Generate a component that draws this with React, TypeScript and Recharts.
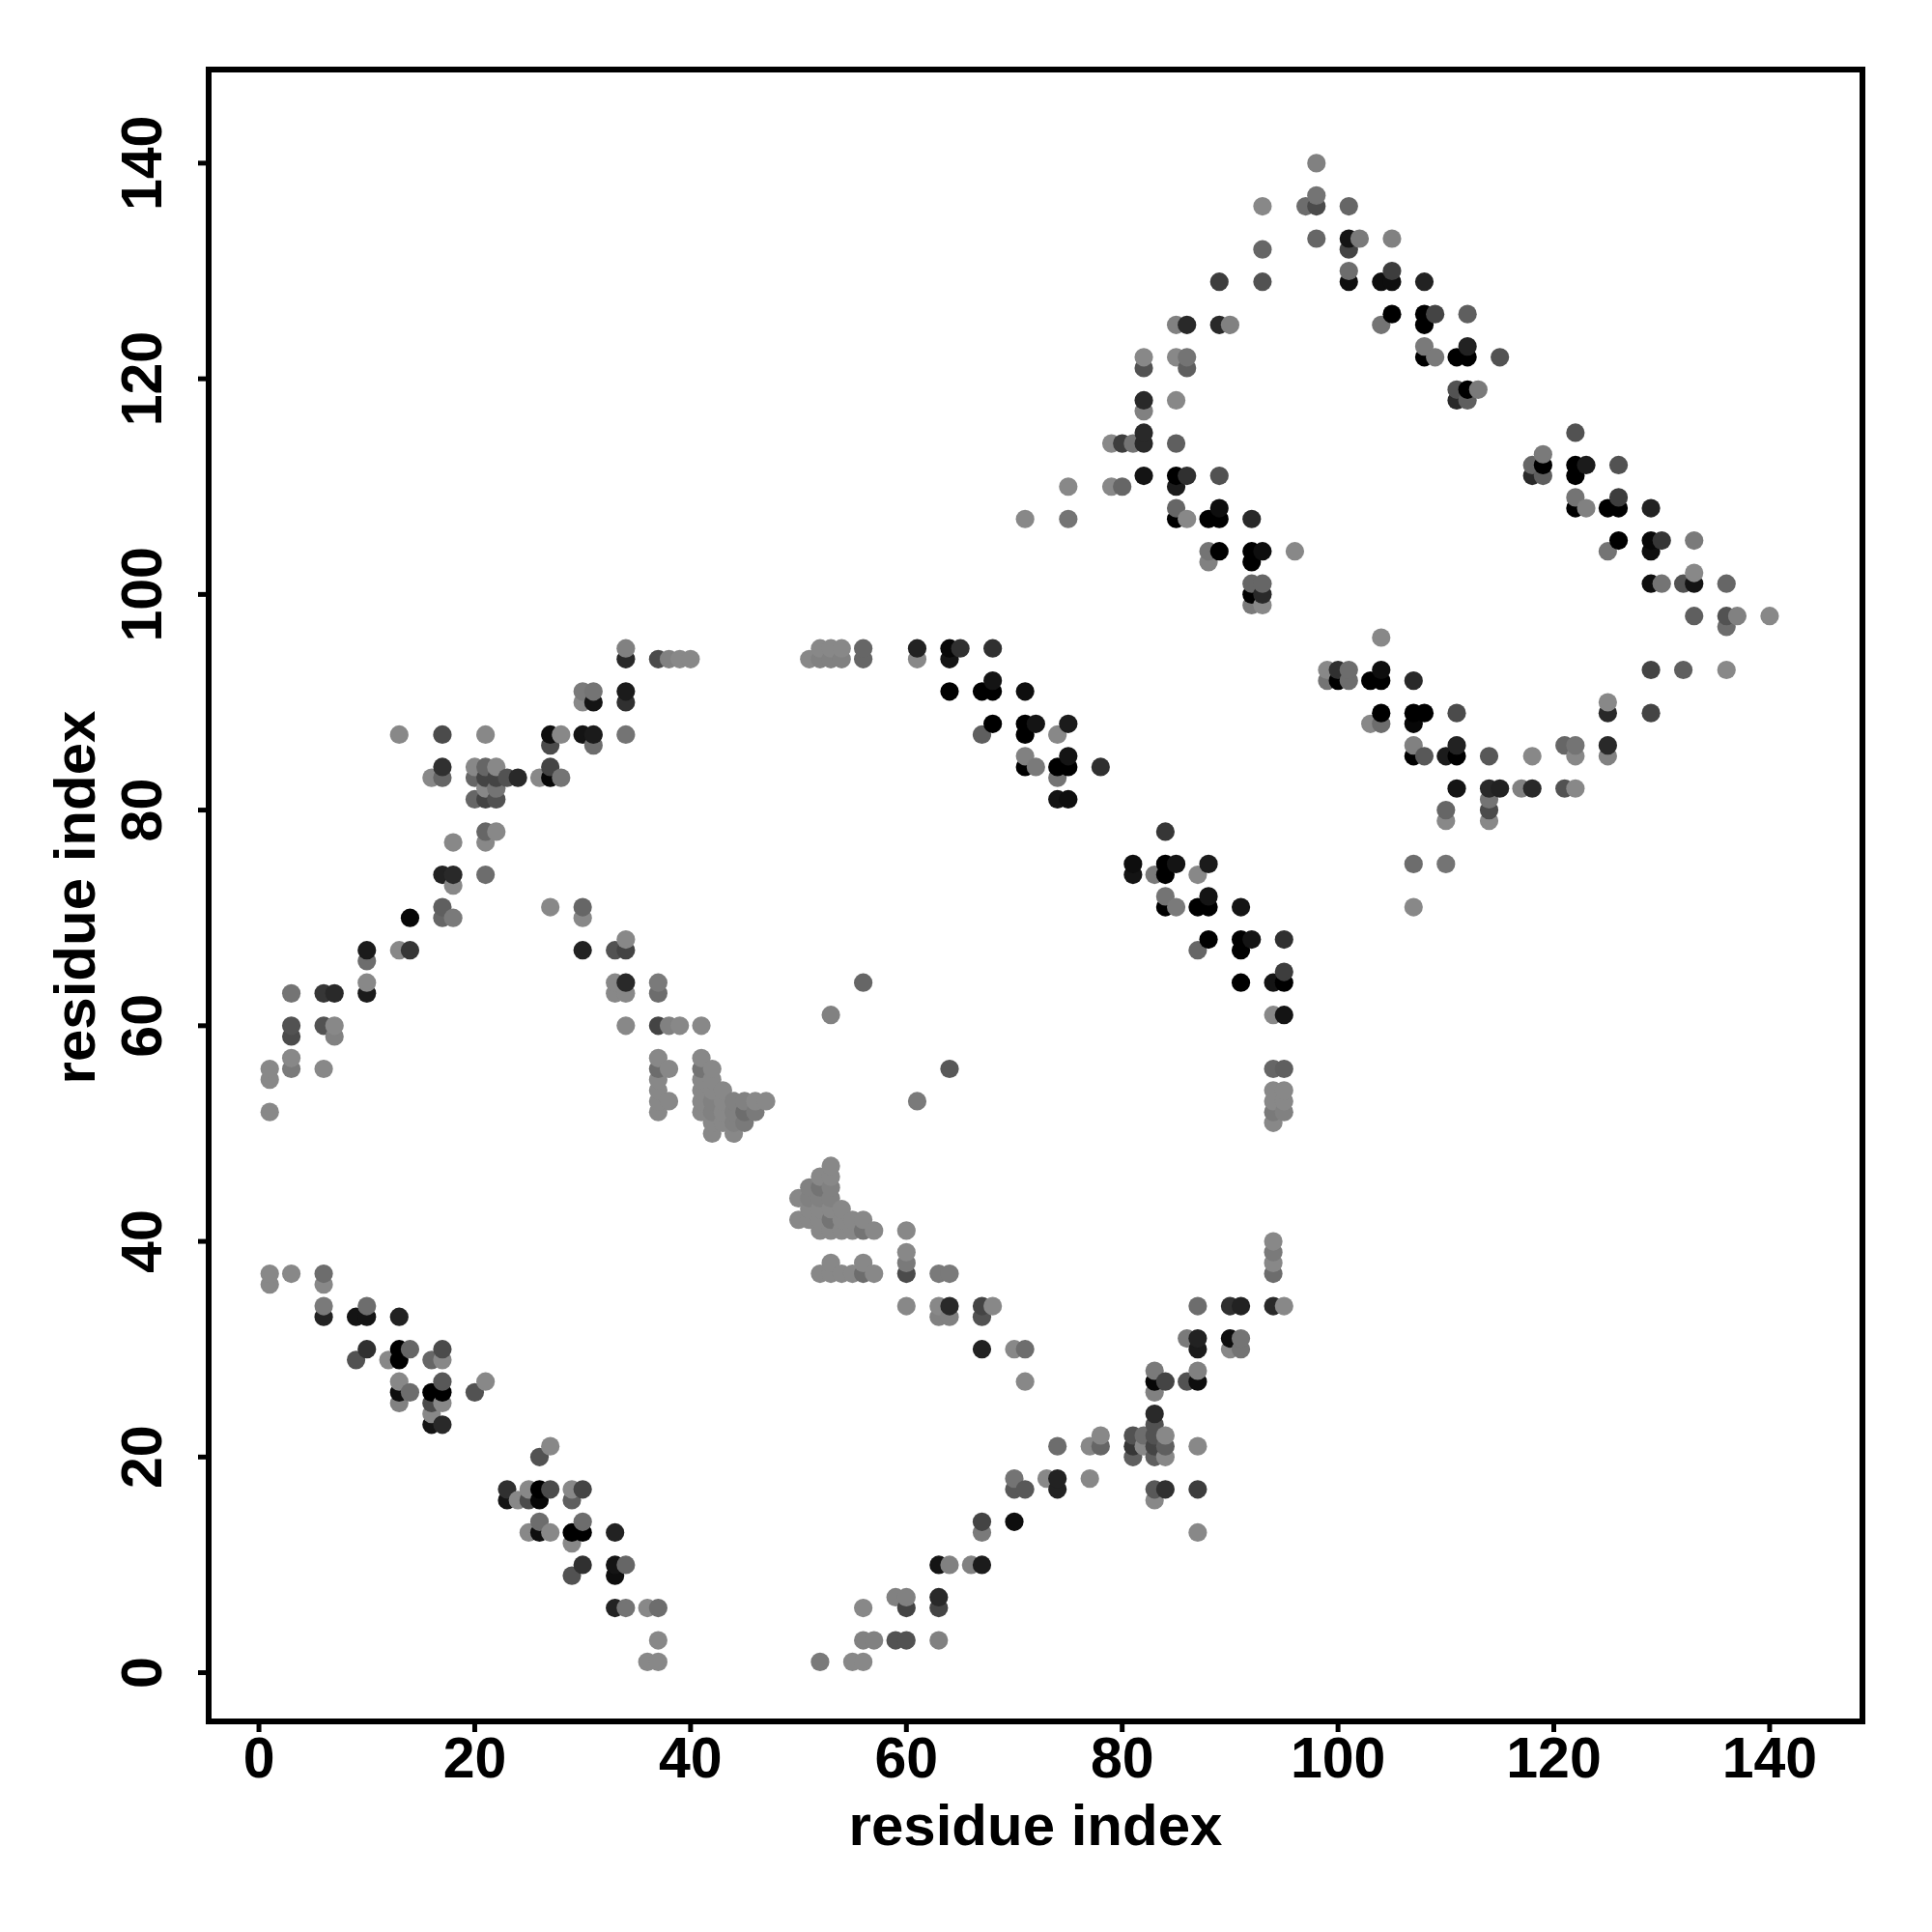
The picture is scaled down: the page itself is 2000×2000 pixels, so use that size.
import { ReferenceArea, Scatter, ScatterChart, XAxis, YAxis } from "recharts";

// [residue i, residue j, contact strength 0-100]
type Contact = [number, number, number];

const axisTicks = [0, 20, 40, 60, 80, 100, 120, 140];
const axisLabel = "residue index";

const lowerLeftContacts: Contact[] = [
  [1, 37, 0], [3, 37, 0], [6, 37, 20], [1, 36, 0], [6, 36, 0], [6, 34, 10], [10, 34, 20],
  [6, 33, 75], [9, 33, 85], [10, 33, 85], [13, 33, 75], [10, 30, 65], [13, 30, 100], [14, 30, 25],
  [17, 30, 45], [9, 29, 40], [12, 29, 0], [13, 29, 100], [16, 29, 25], [17, 29, 0], [13, 27, 0],
  [17, 27, 35], [13, 26, 90], [14, 26, 20], [16, 26, 100], [17, 26, 100], [13, 25, 5], [16, 25, 45],
  [17, 25, 0], [16, 24, 0], [16, 23, 85], [17, 23, 70], [21, 27, 0], [20, 26, 40], [27, 21, 0],
  [26, 20, 40], [23, 17, 65], [25, 17, 0], [26, 17, 100], [27, 17, 45], [29, 17, 0], [30, 17, 50],
  [23, 16, 85], [24, 16, 0], [25, 16, 45], [26, 16, 95], [29, 16, 30], [26, 14, 20], [30, 14, 20],
  [25, 13, 0], [26, 13, 90], [27, 13, 0], [29, 13, 100], [30, 13, 100], [33, 13, 75], [29, 12, 0],
  [30, 10, 65], [33, 10, 85], [34, 10, 25], [29, 9, 40], [33, 9, 90], [33, 6, 75], [34, 6, 15],
  [36, 6, 0], [37, 6, 20], [37, 3, 0], [36, 1, 0], [37, 1, 0],
];

const lowerMiddleContacts: Contact[] = [
  [53, 47, 0], [52, 46, 0], [53, 46, 0], [51, 45, 5], [52, 45, 15], [53, 45, 5], [50, 44, 0],
  [51, 44, 5], [52, 44, 5], [53, 44, 5], [51, 43, 0], [52, 43, 0], [53, 43, 0], [54, 43, 0],
  [50, 42, 0], [51, 42, 0], [52, 42, 0], [53, 42, 15], [54, 42, 0], [55, 42, 0], [56, 42, 0],
  [52, 41, 0], [53, 41, 0], [54, 41, 0], [55, 41, 0], [56, 41, 15], [57, 41, 0], [60, 41, 0],
  [60, 39, 0], [60, 38, 10], [53, 38, 0], [56, 38, 0], [52, 37, 0], [53, 37, 0], [54, 37, 0],
  [55, 37, 0], [56, 37, 20], [57, 37, 0], [60, 37, 45], [63, 37, 10], [64, 37, 10], [60, 34, 0],
  [63, 34, 0], [64, 34, 70], [67, 34, 50], [68, 34, 0], [63, 33, 5], [64, 33, 5], [67, 33, 40],
  [67, 30, 75], [70, 30, 0], [71, 30, 20], [71, 27, 0], [74, 21, 20], [77, 21, 0], [70, 18, 15],
  [73, 18, 0], [74, 18, 75], [77, 18, 0], [70, 17, 35], [71, 17, 35], [74, 17, 75], [67, 14, 50],
  [70, 14, 90], [67, 13, 10], [63, 10, 85], [64, 10, 5], [66, 10, 5], [67, 10, 80], [59, 7, 5],
  [60, 7, 5], [63, 7, 70], [56, 6, 0], [60, 6, 50], [63, 6, 50], [56, 3, 5], [57, 3, 5], [59, 3, 40],
  [60, 3, 40], [63, 3, 5], [52, 1, 10], [55, 1, 0], [56, 1, 0],
];

const lowerRightContacts: Contact[] = [
  [94, 40, 0], [94, 39, 10], [94, 38, 0], [94, 37, 20], [87, 34, 20], [90, 34, 65], [91, 34, 75],
  [94, 34, 70], [95, 34, 0], [86, 31, 10], [87, 31, 75], [90, 31, 90], [91, 31, 15], [87, 30, 80],
  [90, 30, 0], [91, 30, 15], [83, 28, 10], [87, 28, 5], [83, 27, 95], [84, 27, 50], [86, 27, 40],
  [87, 27, 90], [83, 26, 5], [83, 24, 70], [83, 23, 40], [81, 22, 40], [82, 22, 20], [83, 22, 40],
  [84, 22, 0], [78, 22, 0], [78, 21, 25], [81, 21, 60], [82, 21, 0], [83, 21, 50], [84, 21, 30],
  [87, 21, 0], [81, 20, 30], [83, 20, 30], [84, 20, 0], [83, 17, 35], [84, 17, 65], [87, 17, 55],
  [83, 16, 0], [87, 13, 0],
];

const upperLeftContacts: Contact[] = [
  [34, 95, 5], [34, 94, 70], [37, 94, 45], [38, 94, 5], [39, 94, 0], [40, 94, 0], [30, 91, 10],
  [31, 91, 15], [34, 91, 80], [30, 90, 0], [31, 90, 85], [34, 90, 65], [13, 87, 0], [17, 87, 45],
  [21, 87, 0], [27, 87, 90], [28, 87, 0], [30, 87, 85], [31, 87, 80], [34, 87, 15], [27, 86, 45],
  [31, 86, 20], [17, 84, 65], [20, 84, 0], [21, 84, 25], [22, 84, 0], [27, 84, 50], [16, 83, 0],
  [17, 83, 25], [20, 83, 25], [21, 83, 50], [22, 83, 50], [23, 83, 40], [24, 83, 70], [26, 83, 0],
  [27, 83, 95], [28, 83, 15], [21, 82, 0], [22, 82, 15], [20, 81, 25], [21, 81, 50], [22, 81, 40],
  [21, 78, 25], [22, 78, 0], [18, 77, 0], [21, 77, 0], [17, 74, 75], [18, 74, 70], [21, 74, 20],
  [18, 73, 0], [17, 71, 30], [27, 71, 0], [30, 71, 25], [14, 70, 95], [17, 70, 25], [18, 70, 10],
  [30, 70, 0], [34, 68, 0], [10, 67, 80], [13, 67, 0], [14, 67, 60], [30, 67, 75], [33, 67, 40],
  [34, 67, 50], [10, 66, 20], [10, 64, 0], [33, 64, 0], [34, 64, 70], [37, 64, 10], [3, 63, 15],
  [6, 63, 60], [7, 63, 70], [10, 63, 80], [33, 63, 0], [34, 63, 0], [37, 63, 20], [3, 60, 40],
  [6, 60, 40], [7, 60, 0], [34, 60, 0], [37, 60, 50], [38, 60, 5], [39, 60, 0], [41, 60, 0],
  [3, 59, 45], [7, 59, 5], [3, 57, 0], [37, 57, 0], [1, 56, 0], [3, 56, 10], [6, 56, 0], [37, 56, 20],
  [38, 56, 0], [1, 55, 0], [37, 55, 0], [37, 54, 0], [37, 53, 0], [38, 53, 0], [1, 52, 0], [37, 52, 0],
];

const centerContacts: Contact[] = [
  [41, 57, 0], [41, 56, 15], [42, 56, 0], [41, 55, 0], [42, 55, 0], [41, 54, 0], [42, 54, 0],
  [43, 54, 0], [41, 53, 0], [42, 53, 5], [43, 53, 0], [44, 53, 5], [45, 53, 5], [46, 53, 0],
  [47, 53, 0], [41, 52, 0], [42, 52, 5], [43, 52, 0], [44, 52, 5], [45, 52, 20], [46, 52, 10],
  [42, 51, 0], [43, 51, 0], [44, 51, 5], [45, 51, 10], [42, 50, 0], [44, 50, 0], [61, 53, 10],
  [64, 56, 35], [53, 61, 5], [56, 64, 25],
];

const middleContacts: Contact[] = [
  [52, 95, 0], [53, 95, 0], [54, 95, 0], [56, 95, 25], [61, 95, 75], [64, 95, 95], [65, 95, 65],
  [68, 95, 65], [51, 94, 0], [52, 94, 5], [53, 94, 5], [54, 94, 5], [56, 94, 25], [61, 94, 0],
  [64, 94, 85], [68, 92, 85], [64, 91, 100], [67, 91, 100], [68, 91, 100], [71, 91, 90], [68, 88, 100],
  [71, 88, 100], [72, 88, 85], [75, 88, 80], [67, 87, 30], [71, 87, 100], [74, 87, 0], [71, 85, 5],
  [75, 85, 85], [71, 84, 100], [72, 84, 10], [74, 84, 100], [75, 84, 100], [78, 84, 65], [74, 83, 15],
  [74, 81, 85], [75, 81, 90], [84, 78, 60], [81, 75, 90], [84, 75, 100], [85, 75, 85], [88, 75, 80],
  [81, 74, 85], [83, 74, 10], [84, 74, 100], [87, 74, 0], [84, 72, 15], [88, 72, 85], [84, 71, 100],
  [85, 71, 10], [87, 71, 100], [88, 71, 100], [91, 71, 85], [88, 68, 100], [91, 68, 100], [92, 68, 85],
  [95, 68, 65], [87, 67, 25], [91, 67, 100], [95, 65, 55], [91, 64, 100], [94, 64, 85], [95, 64, 100],
  [94, 61, 0], [95, 61, 85], [94, 56, 25], [95, 56, 30], [94, 54, 0], [95, 54, 0], [94, 53, 0],
  [95, 53, 0], [94, 52, 10], [95, 52, 5], [94, 51, 0],
];

const upperMiddleContacts: Contact[] = [
  [93, 136, 0], [93, 132, 25], [89, 129, 55], [93, 129, 40], [85, 125, 5], [86, 125, 70], [89, 125, 70],
  [90, 125, 5], [82, 122, 0], [85, 122, 0], [86, 122, 15], [82, 121, 40], [86, 121, 30], [82, 118, 70],
  [85, 118, 0], [82, 117, 5], [82, 115, 70], [79, 114, 0], [80, 114, 55], [81, 114, 15], [82, 114, 70],
  [85, 114, 30], [82, 111, 85], [85, 111, 100], [86, 111, 65], [89, 111, 40], [75, 110, 0], [79, 110, 0],
  [80, 110, 25], [85, 110, 80], [85, 108, 25], [89, 108, 90], [71, 107, 0], [75, 107, 15], [85, 107, 100],
  [86, 107, 0], [88, 107, 100], [89, 107, 100], [92, 107, 70], [88, 104, 15], [89, 104, 100],
  [92, 104, 100], [93, 104, 90], [96, 104, 0], [88, 103, 5], [92, 103, 100], [92, 101, 25], [93, 101, 25],
  [92, 100, 100], [93, 100, 70], [92, 99, 10], [93, 99, 0],
];

const upperRightContacts: Contact[] = [
  [98, 140, 5], [98, 137, 15], [97, 136, 20], [98, 136, 45], [101, 136, 25], [98, 133, 25], [101, 133, 85],
  [102, 133, 10], [105, 133, 5], [101, 132, 50], [101, 130, 20], [105, 130, 55], [101, 129, 90],
  [104, 129, 90], [105, 129, 90], [108, 129, 75], [105, 126, 100], [108, 126, 100], [109, 126, 50],
  [112, 126, 30], [104, 125, 15], [108, 125, 100], [108, 123, 10], [112, 123, 75], [108, 122, 100],
  [109, 122, 10], [111, 122, 100], [112, 122, 100], [115, 122, 40], [111, 119, 40], [112, 119, 100],
  [113, 119, 10], [111, 118, 70], [112, 118, 30], [122, 115, 40], [119, 113, 10], [118, 112, 25],
  [119, 112, 100], [122, 112, 100], [123, 112, 80], [126, 112, 40], [118, 111, 70], [119, 111, 30],
  [122, 111, 100], [122, 109, 15], [126, 109, 55], [122, 108, 100], [123, 108, 5], [125, 108, 100],
  [126, 108, 100], [129, 108, 75], [126, 105, 100], [129, 105, 95], [130, 105, 60], [133, 105, 10],
  [125, 104, 15], [129, 104, 90], [133, 102, 0], [129, 101, 90], [130, 101, 15], [132, 101, 40],
  [133, 101, 85], [136, 101, 25], [133, 98, 30], [136, 98, 40], [137, 98, 5], [140, 98, 0], [136, 97, 20],
];

const rightContacts: Contact[] = [
  [104, 96, 0], [99, 93, 0], [100, 93, 65], [101, 93, 20], [104, 93, 90], [129, 93, 50], [132, 93, 30],
  [136, 93, 0], [99, 92, 15], [100, 92, 100], [101, 92, 20], [103, 92, 100], [104, 92, 100], [107, 92, 70],
  [125, 90, 0], [104, 89, 100], [107, 89, 100], [108, 89, 100], [111, 89, 45], [125, 89, 70], [129, 89, 50],
  [103, 88, 0], [104, 88, 20], [107, 88, 95], [107, 86, 5], [111, 86, 75], [121, 86, 25], [122, 86, 15],
  [125, 86, 70], [107, 85, 100], [108, 85, 35], [110, 85, 80], [111, 85, 100], [114, 85, 35], [118, 85, 0],
  [122, 85, 0], [125, 85, 5], [111, 82, 85], [114, 82, 70], [115, 82, 75], [117, 82, 5], [118, 82, 70],
  [121, 82, 40], [122, 82, 0], [114, 81, 15], [110, 80, 25], [114, 80, 45], [110, 79, 0], [114, 79, 0],
  [107, 75, 20], [110, 75, 15], [107, 71, 0],
];

const points = [
  ...lowerLeftContacts,
  ...lowerMiddleContacts,
  ...lowerRightContacts,
  ...upperLeftContacts,
  ...centerContacts,
  ...middleContacts,
  ...upperMiddleContacts,
  ...upperRightContacts,
  ...rightContacts,
]
  .map(([i, j, strength]) => ({ i, j, strength }))
  .sort((a, b) => a.i - b.i || a.j - b.j);

const xDomain: [number, number] = [-4.66, 148.6];
const yDomain: [number, number] = [-4.52, 148.68];
const FONT = '"Liberation Sans", Arial, sans-serif';

const Dot = ({ cx, cy, payload }: any) => {
  const g = Math.round(136 * (1 - payload.strength / 100));
  return <circle cx={cx} cy={cy} r={9.6} fill={`rgb(${g},${g},${g})`} />;
};

const XTick = ({ x, y, payload }: any) => (
  <text x={x} y={y} dy={45} textAnchor="middle" fontFamily={FONT} fontWeight="bold" fontSize={59} fill="#000">
    {payload.value}
  </text>
);

const YTick = ({ x, y, payload }: any) => (
  <text
    transform={`translate(${x - 36},${y}) rotate(-90)`}
    textAnchor="middle"
    fontFamily={FONT}
    fontWeight="bold"
    fontSize={59}
    fill="#000"
  >
    {payload.value}
  </text>
);

const App = () => {
  return (
    <div style={{ position: "absolute", left: 0, top: 0, width: 2000, height: 2000, background: "#fff" }}>
      <ScatterChart width={2000} height={2000} margin={{ top: 72, right: 72, bottom: 0, left: 0 }}>
        <XAxis
          type="number"
          dataKey="i"
          domain={xDomain}
          ticks={axisTicks}
          interval={0}
          allowDataOverflow
          height={218}
          axisLine={false}
          tickSize={11}
          tickLine={{ stroke: "#000", strokeWidth: 5 }}
          tick={<XTick />}
          label={{
            value: axisLabel,
            position: "insideBottom",
            offset: 90,
            fontFamily: FONT,
            fontWeight: "bold",
            fontSize: 60,
            fill: "#000",
          }}
        />
        <YAxis
          type="number"
          dataKey="j"
          domain={yDomain}
          ticks={axisTicks}
          interval={0}
          allowDataOverflow
          width={216}
          axisLine={false}
          tickSize={11}
          tickLine={{ stroke: "#000", strokeWidth: 5 }}
          tick={<YTick />}
          label={{
            value: axisLabel,
            angle: -90,
            position: "insideLeft",
            offset: 77,
            dy: 2,
            fontFamily: FONT,
            fontWeight: "bold",
            fontSize: 60,
            fill: "#000",
            style: { textAnchor: "middle" },
          }}
        />
        <ReferenceArea
          x1={xDomain[0]}
          x2={xDomain[1]}
          y1={yDomain[0]}
          y2={yDomain[1]}
          fill="none"
          stroke="#000"
          strokeWidth={6}
          ifOverflow="visible"
        />
        <Scatter data={points} shape={<Dot />} isAnimationActive={false} />
      </ScatterChart>
    </div>
  );
};

export default App;
